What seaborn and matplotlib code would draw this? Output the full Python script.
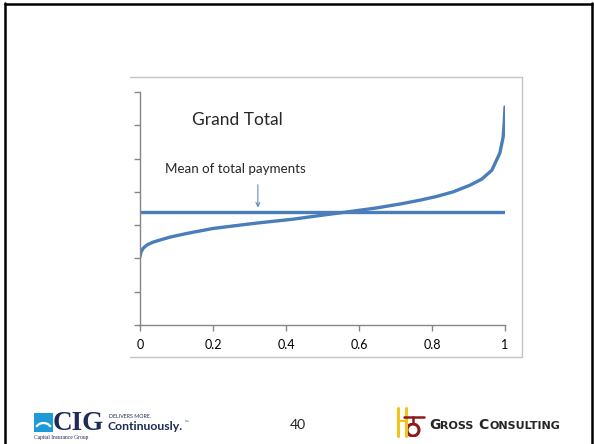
import matplotlib
matplotlib.use("Agg")
import matplotlib.pyplot as plt
import seaborn as sns
from matplotlib.patches import Rectangle, Arc, Circle
from matplotlib.lines import Line2D

# Cumulative share of claims (x) against total payment level (y)
share = [0.000, 0.003, 0.009, 0.020, 0.036, 0.060, 0.082, 0.128, 0.200,
         0.310, 0.420, 0.500, 0.570, 0.650, 0.720, 0.767, 0.812, 0.858,
         0.904, 0.936, 0.964, 0.986, 0.995, 0.998, 1.000]
payment = [2.05, 2.20, 2.31, 2.41, 2.49, 2.57, 2.64, 2.75, 2.90,
           3.05, 3.18, 3.30, 3.40, 3.52, 3.65, 3.75, 3.86, 4.00,
           4.20, 4.38, 4.65, 5.17, 5.65, 6.10, 6.55]
mean_x = [0.0, 1.0]
mean_y = [3.39, 3.39]
x_ticks = [0, 0.2, 0.4, 0.6, 0.8, 1]
x_tick_labels = ["0", "0.2", "0.4", "0.6", "0.8", "1"]
y_ticks = [0, 1, 2, 3, 4, 5, 6, 7]

sns.set_style("white")
plt.rcParams["font.family"] = ["Lato", "DejaVu Sans"]

W, H = 594, 444
fig = plt.figure(figsize=(W / 100, H / 100), dpi=100)
fig.patch.set_facecolor("white")

def fx(px):
    return px / W

def fy(py):
    return 1 - py / H

# slide border
fig.add_artist(Line2D([fx(5), fx(5)], [fy(3), 0], color="black", lw=1.8))
fig.add_artist(Line2D([fx(5), fx(592)], [fy(4), fy(4)], color="black", lw=1.8))
fig.add_artist(Line2D([fx(592), fx(592)], [fy(3), 0], color="black", lw=1.8))

# chart frame
frame_c = "#c4c4c4"
fig.add_artist(Line2D([fx(130), fx(522)], [fy(77), fy(77)], color=frame_c, lw=1.0))
fig.add_artist(Line2D([fx(522), fx(522)], [fy(77), fy(357)], color=frame_c, lw=1.0))
fig.add_artist(Line2D([fx(130), fx(522)], [fy(357), fy(357)], color=frame_c, lw=1.0))

ax = fig.add_axes([fx(140), fy(325), fx(505) - fx(140), (325 - 92) / H])
ax.set_facecolor("none")

blue = "#4A7EBB"
sns.lineplot(x=share, y=payment, ax=ax, color=blue, lw=2.4, sort=False)
sns.lineplot(x=mean_x, y=mean_y, ax=ax, color=blue, lw=2.4, sort=False)

ax.set_xlim(0, 1)
ax.set_ylim(0, 7)
ax.set_xticks(x_ticks)
ax.set_xticklabels(x_tick_labels)
ax.set_yticks(y_ticks)
ax.set_yticklabels([])
ax.set_xlabel("")
ax.set_ylabel("")
for side in ("top", "right"):
    ax.spines[side].set_visible(False)
for side in ("left", "bottom"):
    ax.spines[side].set_color("#868686")
    ax.spines[side].set_linewidth(1.0)
ax.tick_params(axis="both", which="major", direction="out", length=4,
               width=1.0, color="#868686", labelsize=9, labelcolor="black",
               left=True, bottom=True)
ax.tick_params(axis="x", pad=6)

ax.text(0.266, 6.17, "Grand Total", fontsize=12.5, ha="center", va="center")
ax.text(0.26, 4.68, "Mean of total payments", fontsize=9.6, ha="center", va="center")
ax.annotate("", xy=(0.323, 3.45), xytext=(0.323, 4.3),
            arrowprops=dict(arrowstyle="->", color=blue, lw=0.7,
                            mutation_scale=7))

# page number
fig.text(fx(298), fy(425), "40", fontsize=10, ha="center", va="center")

# CIG logo
fig.add_artist(Rectangle((fx(34), fy(432)), fx(19), (432 - 413) / H,
                         facecolor="#1f9ad8", edgecolor="none"))
fig.add_artist(Arc((fx(43.5), fy(430)), fx(16), 14 / H, theta1=30, theta2=150,
                   color="white", lw=1.6))
fig.text(fx(53), fy(423), "CIG", fontsize=19.5, fontweight="bold",
         family=["Liberation Serif", "DejaVu Serif"], color="#1c2b57",
         ha="left", va="center")
fig.text(fx(109), fy(416), "DELIVERS MORE.", fontsize=3.8, color="#1c2b57",
         ha="left", va="center")
fig.text(fx(108), fy(426.5), "Continuously.", fontsize=8.8, color="#1c2b57",
         fontweight="bold", ha="left", va="center")
fig.text(fx(185), fy(422.5), "\u2122", fontsize=3.5, color="#1c2b57",
         ha="left", va="center")
fig.text(fx(34), fy(437.5), "Capital Insurance Group", fontsize=4,
         family=["Liberation Serif", "DejaVu Serif"], color="#1c2b57",
         ha="left", va="center")

# Gross Consulting logo
gold = "#f2c318"
maroon = "#8b1a1a"
fig.add_artist(Line2D([fx(398), fx(398)], [fy(408), fy(436)], color=gold, lw=2.2))
fig.add_artist(Line2D([fx(406), fx(406)], [fy(408), fy(436)], color=gold, lw=2.2))
fig.add_artist(Line2D([fx(398), fx(406)], [fy(421), fy(421)], color=gold, lw=1.6))
fig.add_artist(Line2D([fx(404), fx(424)], [fy(417), fy(417)], color=maroon, lw=1.8))
fig.add_artist(Line2D([fx(413), fx(413)], [fy(417), fy(423)], color=maroon, lw=1.8))
ax_logo = fig.add_axes([fx(403), fy(437), fx(20), 14 / H])
ax_logo.set_xlim(0, 20)
ax_logo.set_ylim(0, 14)
ax_logo.set_aspect("equal")
ax_logo.axis("off")
ax_logo.add_patch(Circle((10, 7), 6, facecolor="none", edgecolor=maroon, lw=2.2))

gc_font = ["DejaVu Sans"]
fig.text(fx(429), fy(425), "G", fontsize=10, fontweight="bold", family=gc_font,
         ha="left", va="center")
fig.text(fx(440), fy(425.6), "ROSS", fontsize=8, fontweight="bold", family=gc_font,
         ha="left", va="center")
fig.text(fx(478), fy(425), "C", fontsize=10, fontweight="bold", family=gc_font,
         ha="left", va="center")
fig.text(fx(489), fy(425.6), "ONSULTING", fontsize=8, fontweight="bold", family=gc_font,
         ha="left", va="center")

fig.savefig("out.png", dpi=100, facecolor="white")
